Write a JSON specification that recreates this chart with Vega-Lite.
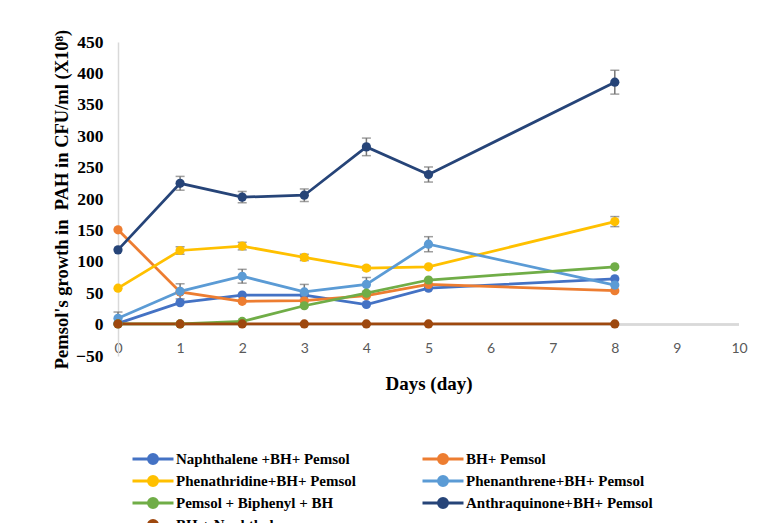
{
  "$schema": "https://vega.github.io/schema/vega-lite/v6.json",
  "autosize": "none",
  "width": 621,
  "height": 314,
  "padding": {"left": 118, "top": 42, "right": 42, "bottom": 167},
  "background": "white",
  "config": {
    "view": {"stroke": null},
    "font": "Liberation Serif"
  },
  "data": {
    "values": [
      {"series": "Naphthalene +BH+ Pemsol", "day": 0, "value": 2, "err": 0},
      {"series": "Naphthalene +BH+ Pemsol", "day": 1, "value": 35, "err": 0},
      {"series": "Naphthalene +BH+ Pemsol", "day": 2, "value": 47, "err": 0},
      {"series": "Naphthalene +BH+ Pemsol", "day": 3, "value": 47, "err": 0},
      {"series": "Naphthalene +BH+ Pemsol", "day": 4, "value": 32, "err": 0},
      {"series": "Naphthalene +BH+ Pemsol", "day": 5, "value": 58, "err": 0},
      {"series": "Naphthalene +BH+ Pemsol", "day": 8, "value": 73, "err": 0},
      {"series": "BH+  Pemsol", "day": 0, "value": 151, "err": 0},
      {"series": "BH+  Pemsol", "day": 1, "value": 52, "err": 0},
      {"series": "BH+  Pemsol", "day": 2, "value": 37, "err": 0},
      {"series": "BH+  Pemsol", "day": 3, "value": 38, "err": 0},
      {"series": "BH+  Pemsol", "day": 4, "value": 46, "err": 0},
      {"series": "BH+  Pemsol", "day": 5, "value": 64, "err": 0},
      {"series": "BH+  Pemsol", "day": 8, "value": 54, "err": 0},
      {"series": "Phenathridine+BH+ Pemsol", "day": 0, "value": 58, "err": 0},
      {"series": "Phenathridine+BH+ Pemsol", "day": 1, "value": 118, "err": 6},
      {"series": "Phenathridine+BH+ Pemsol", "day": 2, "value": 125, "err": 6},
      {"series": "Phenathridine+BH+ Pemsol", "day": 3, "value": 107, "err": 5},
      {"series": "Phenathridine+BH+ Pemsol", "day": 4, "value": 90, "err": 3},
      {"series": "Phenathridine+BH+ Pemsol", "day": 5, "value": 92, "err": 0},
      {"series": "Phenathridine+BH+ Pemsol", "day": 8, "value": 164, "err": 8},
      {"series": "Phenanthrene+BH+ Pemsol", "day": 0, "value": 10, "err": 10},
      {"series": "Phenanthrene+BH+ Pemsol", "day": 1, "value": 53, "err": 12},
      {"series": "Phenanthrene+BH+ Pemsol", "day": 2, "value": 77, "err": 11},
      {"series": "Phenanthrene+BH+ Pemsol", "day": 3, "value": 52, "err": 12},
      {"series": "Phenanthrene+BH+ Pemsol", "day": 4, "value": 64, "err": 11},
      {"series": "Phenanthrene+BH+ Pemsol", "day": 5, "value": 128, "err": 12},
      {"series": "Phenanthrene+BH+ Pemsol", "day": 8, "value": 63, "err": 0},
      {"series": "Pemsol + Biphenyl + BH", "day": 0, "value": 1, "err": 0},
      {"series": "Pemsol + Biphenyl + BH", "day": 1, "value": 1, "err": 0},
      {"series": "Pemsol + Biphenyl + BH", "day": 2, "value": 5, "err": 0},
      {"series": "Pemsol + Biphenyl + BH", "day": 3, "value": 30, "err": 0},
      {"series": "Pemsol + Biphenyl + BH", "day": 4, "value": 50, "err": 0},
      {"series": "Pemsol + Biphenyl + BH", "day": 5, "value": 71, "err": 0},
      {"series": "Pemsol + Biphenyl + BH", "day": 8, "value": 92, "err": 0},
      {"series": "Anthraquinone+BH+ Pemsol", "day": 0, "value": 119, "err": 0},
      {"series": "Anthraquinone+BH+ Pemsol", "day": 1, "value": 225, "err": 11},
      {"series": "Anthraquinone+BH+ Pemsol", "day": 2, "value": 203, "err": 9},
      {"series": "Anthraquinone+BH+ Pemsol", "day": 3, "value": 206, "err": 10},
      {"series": "Anthraquinone+BH+ Pemsol", "day": 4, "value": 283, "err": 14},
      {"series": "Anthraquinone+BH+ Pemsol", "day": 5, "value": 239, "err": 12},
      {"series": "Anthraquinone+BH+ Pemsol", "day": 8, "value": 386, "err": 19},
      {"series": "BH + Naphthalene", "day": 0, "value": 1, "err": 0},
      {"series": "BH + Naphthalene", "day": 1, "value": 1, "err": 0},
      {"series": "BH + Naphthalene", "day": 2, "value": 1, "err": 0},
      {"series": "BH + Naphthalene", "day": 3, "value": 1, "err": 0},
      {"series": "BH + Naphthalene", "day": 4, "value": 1, "err": 0},
      {"series": "BH + Naphthalene", "day": 5, "value": 1, "err": 0},
      {"series": "BH + Naphthalene", "day": 8, "value": 1, "err": 0}
    ]
  },
  "encoding": {
    "x": {
      "field": "day",
      "type": "quantitative",
      "scale": {"domain": [0, 10], "nice": false},
      "axis": {
        "title": "Days (day)",
        "values": [0, 1, 2, 3, 4, 5, 6, 7, 8, 9, 10],
        "format": "d",
        "domain": false,
        "ticks": false,
        "grid": false,
        "labelFlush": false,
        "labelPadding": -15,
        "labelFont": "Lato",
        "labelFontSize": 14,
        "labelColor": "#595959",
        "titleFont": "Liberation Serif",
        "titleFontSize": 19,
        "titleFontWeight": "bold",
        "titleColor": "#000000",
        "titlePadding": 18
      }
    },
    "y": {
      "field": "value",
      "type": "quantitative",
      "scale": {"domain": [-50, 450], "nice": false, "zero": false},
      "axis": {
        "title": "Pemsol's growth in \u00a0PAH in CFU/ml (X10⁸)",
        "values": [-50, 0, 50, 100, 150, 200, 250, 300, 350, 400, 450],
        "domainColor": "#d9d9d9",
        "domainWidth": 1.5,
        "ticks": false,
        "grid": false,
        "labelFlush": false,
        "labelPadding": 15,
        "labelFont": "Liberation Serif",
        "labelFontSize": 17.5,
        "labelFontWeight": "bold",
        "labelColor": "#000000",
        "titleFont": "Liberation Serif",
        "titleFontSize": 18.5,
        "titleFontWeight": "bold",
        "titleColor": "#000000",
        "titlePadding": 4
      }
    }
  },
  "layer": [
    {
      "mark": {"type": "rule", "color": "#d9d9d9", "strokeWidth": 1.5},
      "encoding": {"y": {"datum": 0}, "x": null}
    },
    {
      "transform": [{"filter": "datum.err > 0"}],
      "mark": {"type": "errorbar", "ticks": true, "size": 9, "thickness": 1.5, "color": "#767676"},
      "encoding": {
        "y": {"field": "value", "type": "quantitative"},
        "yError": {"field": "err"}
      }
    },
    {
      "mark": {"type": "line", "strokeWidth": 2.75},
      "encoding": {
        "color": {
          "field": "series",
          "type": "nominal",
          "scale": {
            "domain": [
              "Naphthalene +BH+ Pemsol",
              "BH+  Pemsol",
              "Phenathridine+BH+ Pemsol",
              "Phenanthrene+BH+ Pemsol",
              "Pemsol + Biphenyl + BH",
              "Anthraquinone+BH+ Pemsol",
              "BH + Naphthalene"
            ],
            "range": ["#4472C4", "#ED7D31", "#FFC000", "#5B9BD5", "#70AD47", "#264478", "#9E480E"]
          },
          "legend": {
            "title": null,
            "orient": "none",
            "direction": "horizontal",
            "legendX": 23.5,
            "legendY": 405.5,
            "columns": 2,
            "columnPadding": 60,
            "rowPadding": -1.8,
            "symbolType": "M-2.05,0H2.05M0.45,0A0.45,0.45 0 1 1 -0.45,0A0.45,0.45 0 1 1 0.45,0M0.3,0A0.3,0.3 0 1 1 -0.3,0A0.3,0.3 0 1 1 0.3,0M0.15,0A0.15,0.15 0 1 1 -0.15,0A0.15,0.15 0 1 1 0.15,0M0.03,0A0.03,0.03 0 1 1 -0.03,0A0.03,0.03 0 1 1 0.03,0",
            "symbolSize": 400,
            "symbolStrokeWidth": 3,
            "labelFont": "Liberation Serif",
            "labelFontSize": 15,
            "labelFontWeight": "bold",
            "labelColor": "#000000",
            "labelOffset": 11.5,
            "labelLimit": 400
          }
        },
        "detail": {"field": "series"}
      }
    },
    {
      "mark": {"type": "point", "filled": true, "opacity": 1, "size": 85, "shape": "circle"},
      "encoding": {
        "color": {"field": "series", "type": "nominal", "legend": null}
      }
    }
  ]
}
